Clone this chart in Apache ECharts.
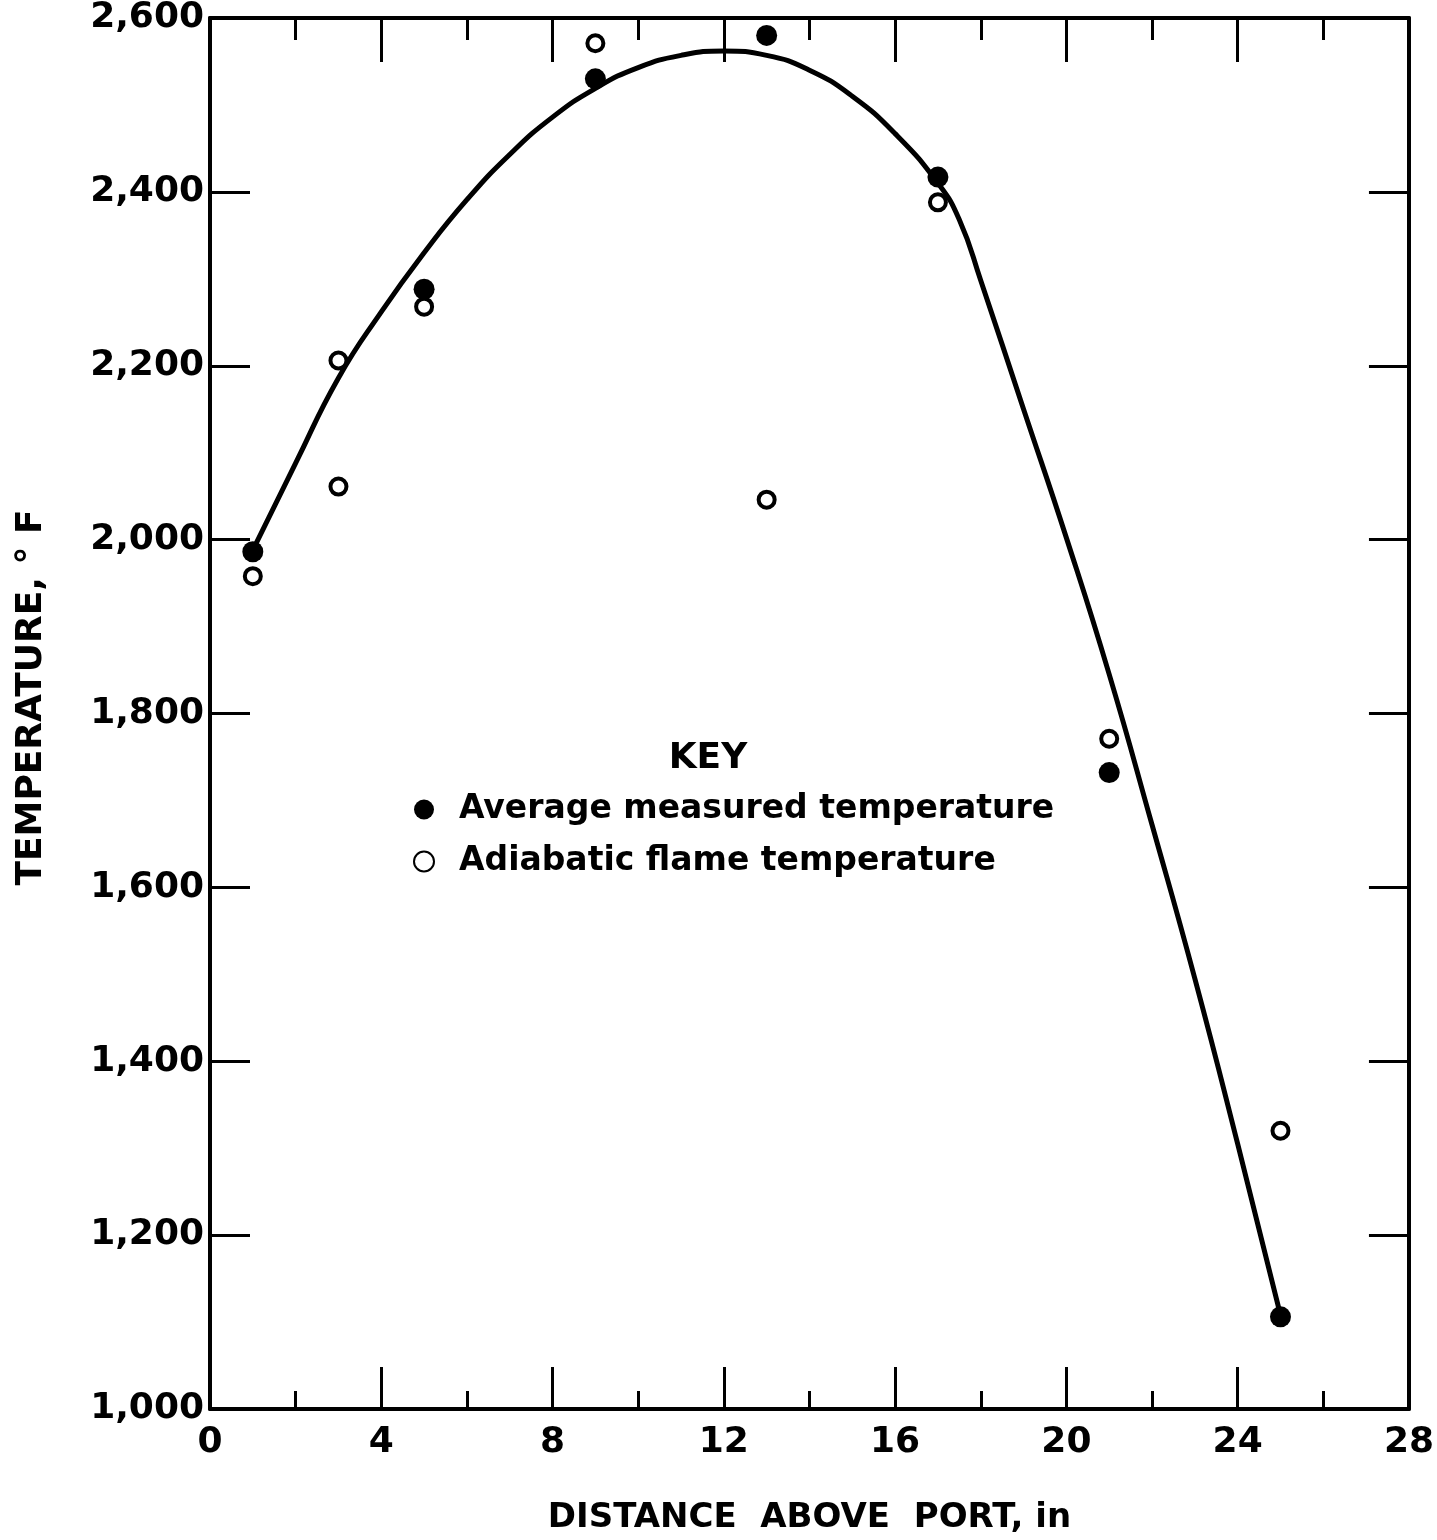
<!DOCTYPE html>
<html>
<head>
<meta charset="utf-8">
<title>Temperature vs distance above port</title>
<script src="https://cdn.jsdelivr.net/npm/echarts@6/dist/echarts.min.js"></script>
<style>
  html, body { margin: 0; padding: 0; background: #fff; }
  #chart { width: 1437px; height: 1540px; }
</style>
</head>
<body>
<div id="chart"></div>
<script>
  // measured points (filled circles)
  let measuredX = [1, 5, 9, 13, 17, 21, 25];
  let measuredY = [1986, 2288, 2530, 2580, 2417, 1732, 1106];
  // adiabatic flame temperature (open circles)
  let adiabaticX = [1, 3, 3, 5, 9, 13, 17, 21, 25];
  let adiabaticY = [1958, 2206, 2061, 2268, 2571, 2046, 2388, 1771, 1320];
  // faired curve through the measurements
  let curveX = [1, 2, 3, 4, 5, 6, 7, 8, 9, 10, 11, 12, 13, 14, 15, 16, 17, 17.5, 18, 19, 20, 21, 22, 23, 24, 25];
  let curveY = [1988, 2088, 2186, 2262, 2330, 2391, 2443, 2486, 2519, 2543, 2557, 2562, 2557, 2540, 2510, 2467, 2410, 2368, 2298, 2150, 2002, 1845, 1672, 1495, 1305, 1108];

  let font = 'DejaVu Sans';
  let zip = (xs, ys) => xs.map((x, i) => [x, ys[i]]);

  let chart = echarts.init(document.getElementById('chart'));

  let xBase = {
    type: 'value',
    min: 0,
    max: 28,
    interval: 4,
    splitLine: { show: false },
    axisLine: { onZero: false, lineStyle: { color: '#000', width: 4 } },
    axisTick: { inside: true, length: 42, lineStyle: { color: '#000', width: 3 } },
    minorTick: { show: true, splitNumber: 2, length: 18, lineStyle: { color: '#000', width: 3 } }
  };
  let yBase = {
    type: 'value',
    min: 1000,
    max: 2600,
    interval: 200,
    splitLine: { show: false },
    axisLine: { onZero: false, lineStyle: { color: '#000', width: 4 } },
    axisTick: { inside: true, length: 40, lineStyle: { color: '#000', width: 3 } }
  };

  chart.setOption({
    backgroundColor: '#fff',
    animation: false,
    title: {
      text: 'KEY',
      left: 703,
      top: 736,
      textAlign: 'center',
      textStyle: { fontFamily: font, fontSize: 36, fontWeight: 'bold', color: '#000' }
    },
    legend: {
      data: ['Average measured temperature', 'Adiabatic flame temperature'],
      orient: 'vertical',
      left: 408,
      top: 788,
      itemWidth: 40,
      itemHeight: 20,
      itemGap: 19,
      selectedMode: false,
      textStyle: { fontFamily: font, fontSize: 33, fontWeight: 'bold', color: '#000', padding: [0, 0, 0, 10] }
    },
    grid: { left: 210, right: 24, top: 17, bottom: 124 },
    xAxis: [
      Object.assign({}, xBase, {
        position: 'bottom',
        name: 'DISTANCE  ABOVE  PORT, in',
        nameLocation: 'middle',
        nameGap: 92,
        nameTextStyle: { fontFamily: font, fontSize: 34, fontWeight: 'bold', color: '#000' },
        axisLabel: { margin: 16, fontFamily: font, fontSize: 36, fontWeight: 'bold', color: '#000' }
      }),
      Object.assign({}, xBase, {
        position: 'top',
        axisLabel: { show: false },
        axisTick: { inside: true, length: 44, lineStyle: { color: '#000', width: 3 } },
        minorTick: { show: true, splitNumber: 2, length: 22, lineStyle: { color: '#000', width: 3 } }
      })
    ],
    yAxis: [
      Object.assign({}, yBase, {
        position: 'left',
        name: 'TEMPERATURE, ° F',
        nameLocation: 'middle',
        nameGap: 160,
        nameRotate: 90,
        nameTextStyle: { fontFamily: font, fontSize: 36, fontWeight: 'bold', color: '#000', padding: [0, 0, 0, 32] },
        axisLabel: {
          margin: 6,
          fontFamily: font,
          fontSize: 36,
          fontWeight: 'bold',
          color: '#000',
          formatter: v => v.toLocaleString('en-US')
        }
      }),
      Object.assign({}, yBase, {
        position: 'right',
        axisLabel: { show: false }
      })
    ],
    series: [
      {
        name: 'curve',
        type: 'line',
        data: zip(curveX, curveY),
        smooth: 0.5,
        showSymbol: false,
        symbol: 'none',
        lineStyle: { color: '#000', width: 5 },
        z: 2
      },
      {
        name: 'Average measured temperature',
        type: 'scatter',
        data: zip(measuredX, measuredY),
        symbol: 'circle',
        symbolSize: 21,
        itemStyle: { color: '#000', opacity: 1 },
        z: 3
      },
      {
        name: 'Adiabatic flame temperature',
        type: 'scatter',
        data: zip(adiabaticX, adiabaticY),
        symbol: 'circle',
        symbolSize: 16,
        itemStyle: { color: '#fff', borderColor: '#000', borderWidth: 4, opacity: 1 },
        z: 4
      }
    ]
  });
</script>
</body>
</html>
